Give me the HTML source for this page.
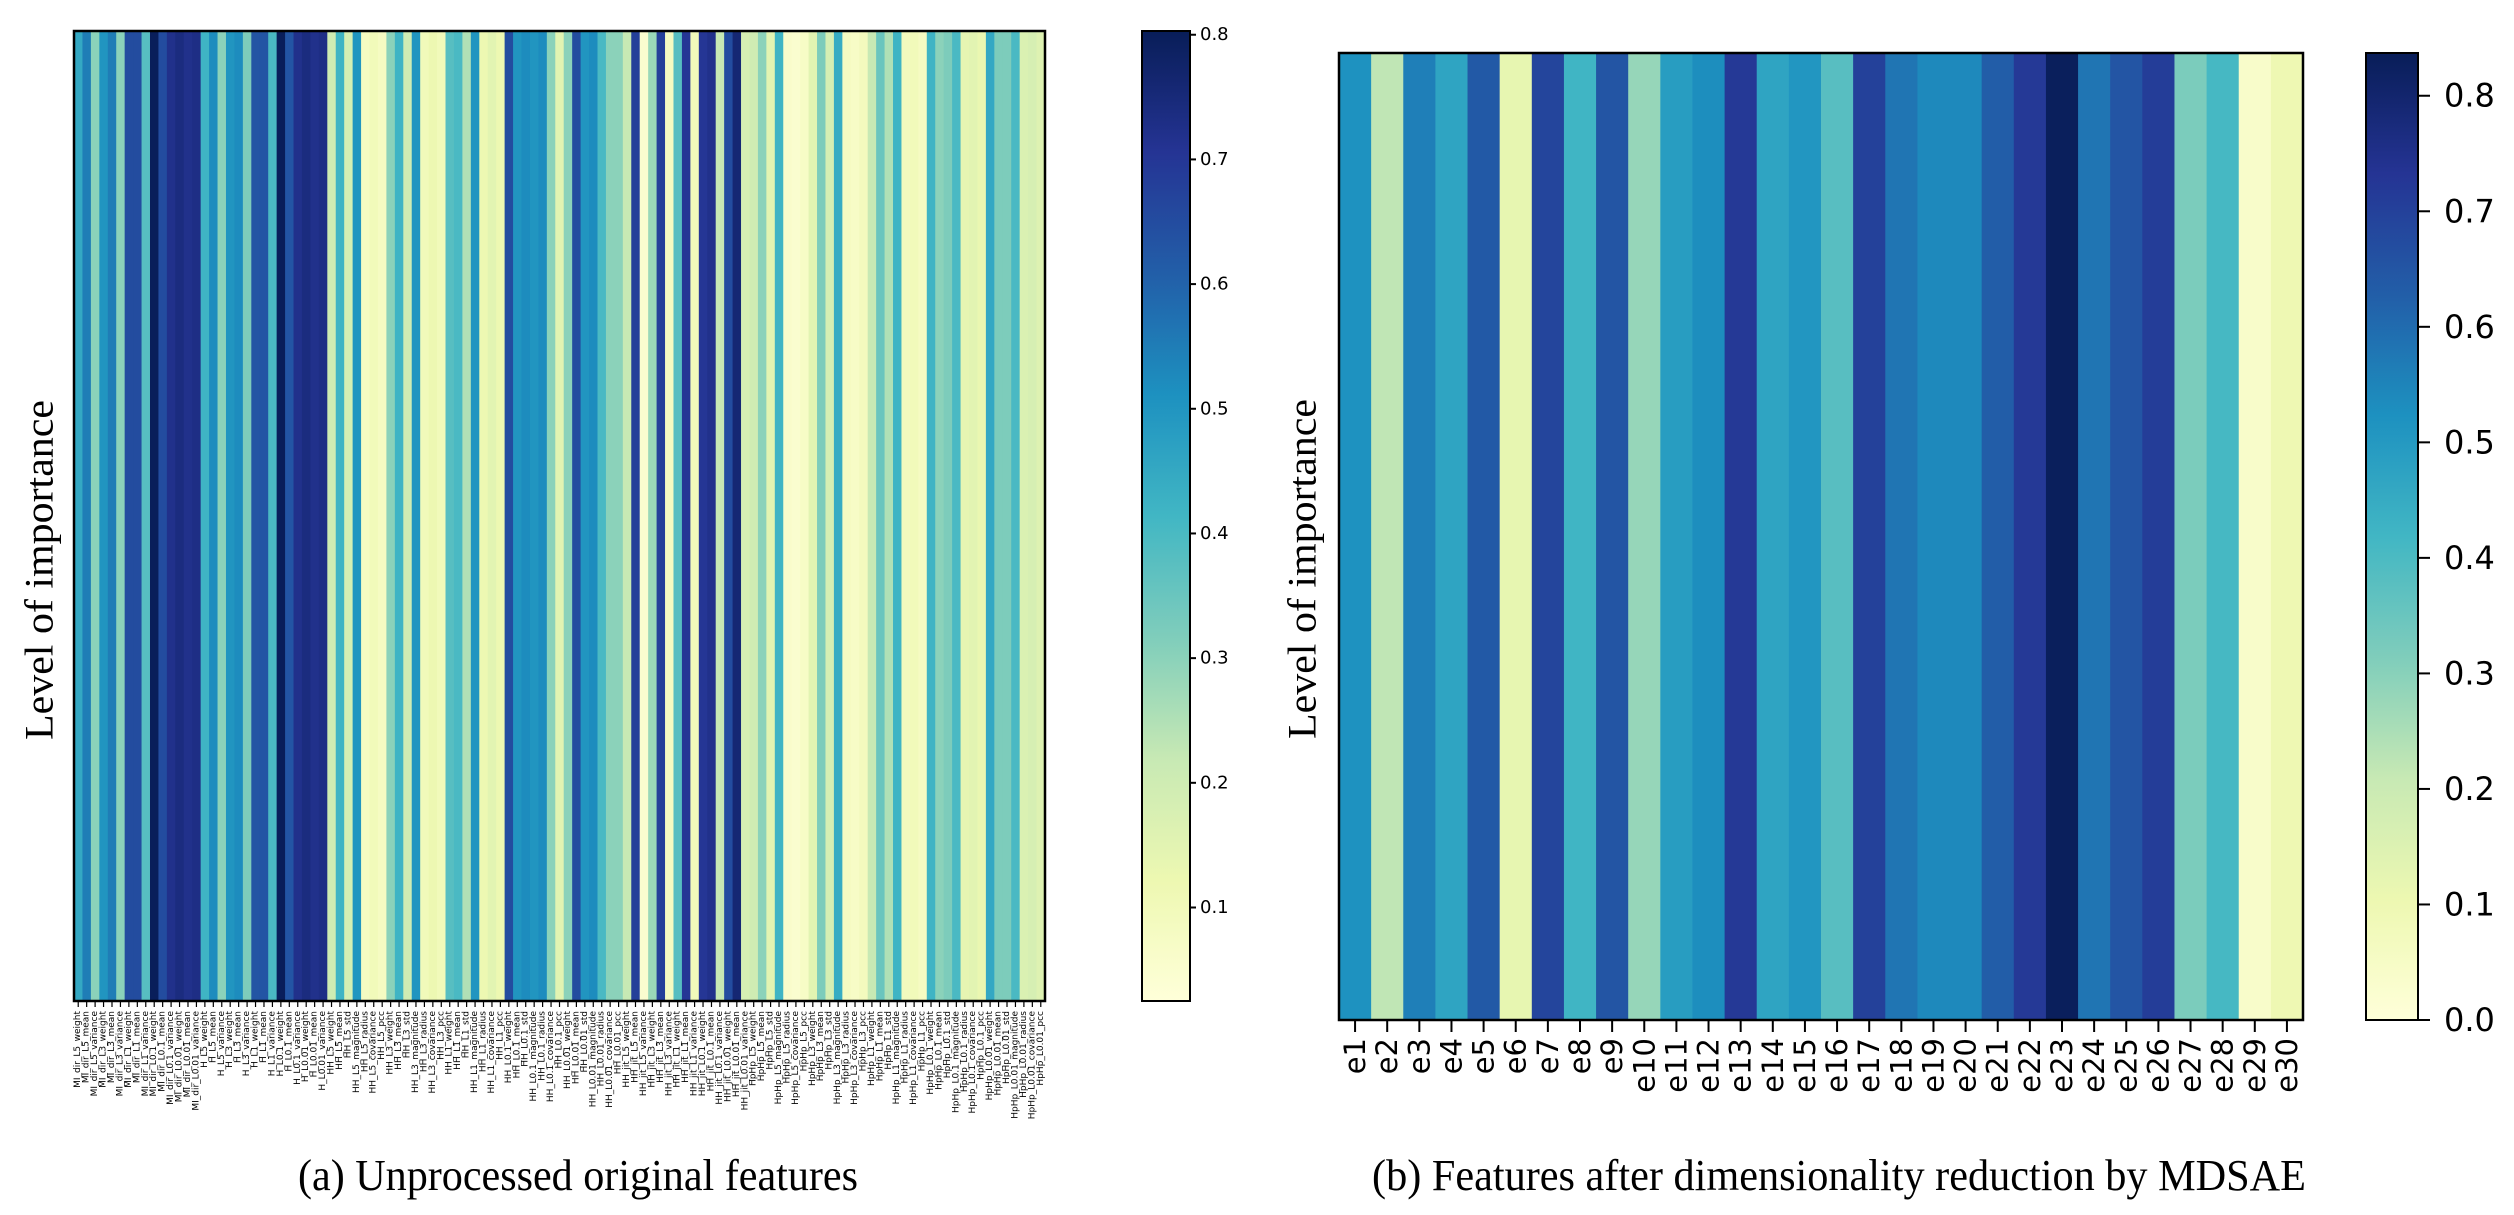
<!DOCTYPE html>
<html><head><meta charset="utf-8"><style>
html,body{margin:0;padding:0;background:#fff;}
svg{display:block;}
</style></head><body>
<svg id="fig" width="2514" height="1215" viewBox="0 0 2514 1215" xmlns="http://www.w3.org/2000/svg">
<rect x="0" y="0" width="2514" height="1215" fill="#fff"/>
<g id="left"></g>
<g id="right"></g>
<text x="39" y="570" transform="rotate(-90 39 570)" text-anchor="middle" dominant-baseline="central" font-family="Liberation Serif, serif" font-size="40" textLength="340" lengthAdjust="spacingAndGlyphs" fill="#000">Level of importance</text>
<text x="1302" y="569" transform="rotate(-90 1302 569)" text-anchor="middle" dominant-baseline="central" font-family="Liberation Serif, serif" font-size="40" textLength="340" lengthAdjust="spacingAndGlyphs" fill="#000">Level of importance</text>
<text x="578" y="1190" text-anchor="middle" font-family="Liberation Serif, serif" font-size="44" textLength="560" lengthAdjust="spacingAndGlyphs" fill="#000">(a) Unprocessed original features</text>
<text x="1839" y="1190" text-anchor="middle" font-family="Liberation Serif, serif" font-size="44" textLength="934" lengthAdjust="spacingAndGlyphs" fill="#000">(b) Features after dimensionality reduction by MDSAE</text>
</svg>
<script>
// ---- data ----
const leftValues = [0.45,0.55,0.3,0.5,0.55,0.3,0.65,0.65,0.38,0.8,0.65,0.72,0.74,0.72,0.73,0.42,0.52,0.3,0.5,0.52,0.32,0.63,0.63,0.4,0.8,0.63,0.72,0.74,0.72,0.73,0.2,0.42,0.18,0.5,0.08,0.1,0.08,0.3,0.42,0.2,0.5,0.1,0.12,0.1,0.38,0.4,0.25,0.5,0.12,0.15,0.12,0.65,0.5,0.52,0.5,0.52,0.3,0.15,0.3,0.65,0.5,0.52,0.4,0.3,0.3,0.22,0.68,0.05,0.28,0.68,0.08,0.38,0.7,0.1,0.7,0.72,0.22,0.65,0.76,0.18,0.2,0.3,0.15,0.42,0.06,0.05,0.07,0.15,0.32,0.18,0.44,0.08,0.07,0.09,0.22,0.35,0.25,0.42,0.09,0.1,0.08,0.42,0.3,0.32,0.4,0.14,0.15,0.13,0.45,0.32,0.32,0.4,0.17,0.18,0.16];
const rightCategories = ['e1','e2','e3','e4','e5','e6','e7','e8','e9','e10','e11','e12','e13','e14','e15','e16','e17','e18','e19','e20','e21','e22','e23','e24','e25','e26','e27','e28','e29','e30'];
const rightValues = [0.52,0.22,0.56,0.47,0.64,0.12,0.69,0.42,0.65,0.28,0.49,0.53,0.72,0.47,0.51,0.38,0.70,0.58,0.54,0.54,0.63,0.72,0.83,0.58,0.65,0.71,0.32,0.41,0.04,0.10];
const leftTicks = ['0.1','0.2','0.3','0.4','0.5','0.6','0.7','0.8'];
const rightTicks = ['0.0','0.1','0.2','0.3','0.4','0.5','0.6','0.7','0.8'];
const streams = ['MI_dir','H','HH','HH_jit','HpHp'];
const windows = ['L5','L3','L1','L0.1','L0.01'];
const statsA = ['weight','mean','variance'];
const statsB = ['weight','mean','std','magnitude','radius','covariance','pcc'];

const NS='http://www.w3.org/2000/svg';
const stops=['#ffffd9','#edf8b1','#c7e9b4','#7fcdbb','#41b6c4','#1d91c0','#225ea8','#253494','#081d58'];
function hex(h){return [parseInt(h.slice(1,3),16),parseInt(h.slice(3,5),16),parseInt(h.slice(5,7),16)];}
function cmap(t){t=Math.max(0,Math.min(1,t));const p=t*(stops.length-1);const i=Math.min(stops.length-2,Math.floor(p));const f=p-i;const a=hex(stops[i]),b=hex(stops[i+1]);return 'rgb('+a.map((v,k)=>Math.round(v+(b[k]-v)*f)).join(',')+')';}
function el(tag,attrs,parent){const e=document.createElementNS(NS,tag);for(const k in attrs)e.setAttribute(k,attrs[k]);parent.appendChild(e);return e;}

const leftCategories=[];
streams.forEach(s=>{const st=(s==='HH'||s==='HpHp')?statsB:statsA;windows.forEach(w=>{st.forEach(m=>leftCategories.push(s+'_'+w+'_'+m));});});

function heatmap(g,opt){
  const n=opt.values.length, cw=(opt.x1-opt.x0)/n;
  const xs=i=>opt.x0+i*cw;
  opt.values.forEach((v,i)=>{
    const r=el('rect',{x:xs(i),y:opt.y0,width:cw+0.6,height:opt.y1-opt.y0,fill:cmap((v-opt.vmin)/(opt.vmax-opt.vmin))},g);
    
    
  });
  el('rect',{x:opt.x0,y:opt.y0,width:opt.x1-opt.x0,height:opt.y1-opt.y0,fill:'none',stroke:'#000','stroke-width':2.5},g);
  opt.cats.forEach((c,i)=>{
    const cx=xs(i)+cw/2;
    el('line',{x1:cx,x2:cx,y1:opt.y1,y2:opt.y1+opt.tickLen,stroke:'#000','stroke-width':opt.tickW},g);
    const t=el('text',{x:cx,y:opt.y1+opt.tickLen+opt.pad,transform:'rotate(-90 '+cx+' '+(opt.y1+opt.tickLen+opt.pad)+')','text-anchor':'end','dominant-baseline':'central','font-family':'DejaVu Sans, sans-serif','font-size':opt.fs,fill:'#000'},g);
    t.textContent=c;
    
    
  });
}
function colorbar(g,opt){
  const grad=el('linearGradient',{id:opt.id,x1:0,y1:1,x2:0,y2:0},el('defs',{},g));
  for(let k=0;k<=40;k++){el('stop',{offset:k/40,'stop-color':cmap(k/40)},grad);}
  const cb=el('rect',{x:opt.x0,y:opt.y0,width:opt.x1-opt.x0,height:opt.y1-opt.y0,fill:'url(#'+opt.id+')',stroke:'#000','stroke-width':2},g);
  
  
  const ys=v=>opt.y1-(v-opt.vmin)/(opt.vmax-opt.vmin)*(opt.y1-opt.y0);
  opt.ticks.forEach(s=>{
    const y=ys(parseFloat(s));
    el('line',{x1:opt.x1,x2:opt.x1+opt.tickLen,y1:y,y2:y,stroke:'#000','stroke-width':2},g);
    const t=el('text',{x:opt.x1+opt.tickLen+opt.pad,y:y,'dominant-baseline':'central','font-family':'DejaVu Sans, sans-serif','font-size':opt.fs,fill:'#000'},g);
    t.textContent=s;
    
    
  });
}
const L=document.getElementById('left'),R=document.getElementById('right');
heatmap(L,{values:leftValues,cats:leftCategories,x0:74,x1:1045,y0:31,y1:1001,vmin:0.025,vmax:0.803,tickLen:6,tickW:1.2,pad:4,fs:9});
colorbar(L,{id:'cbL',x0:1142,x1:1190,y0:31,y1:1001,vmin:0.025,vmax:0.803,ticks:leftTicks,tickLen:6,pad:4,fs:18});
heatmap(R,{values:rightValues,cats:rightCategories,x0:1339,x1:2303,y0:53,y1:1020,vmin:0,vmax:0.837,tickLen:12,tickW:2,pad:6,fs:29});
colorbar(R,{id:'cbR',x0:2366,x1:2418,y0:53,y1:1020,vmin:0,vmax:0.837,ticks:rightTicks,tickLen:12,pad:14,fs:32});
</script>
</body></html>
